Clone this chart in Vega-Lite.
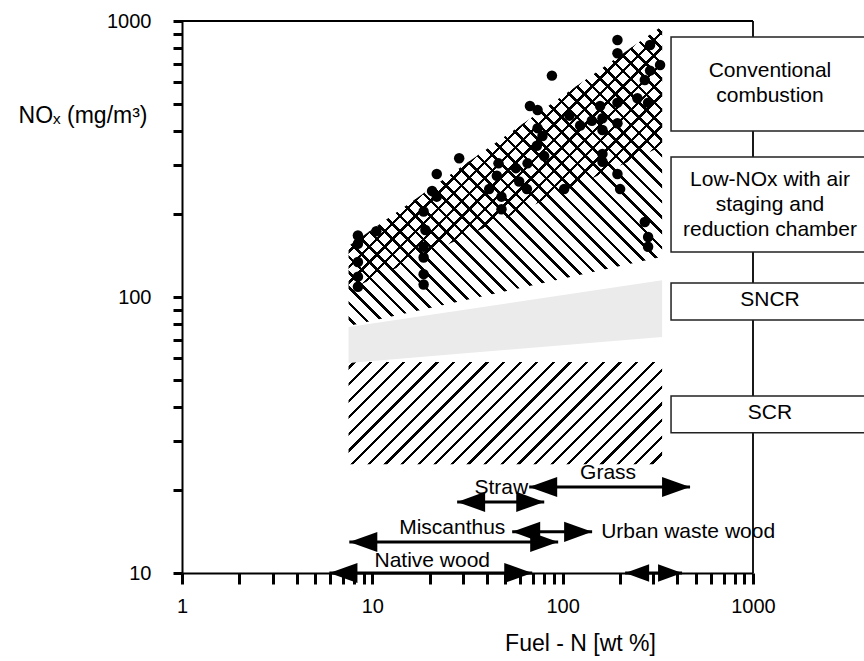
{
"$schema":"https://vega.github.io/schema/vega-lite/v6.json",
"width":571,"height":552,
"autosize":{"type":"none"},
"padding":{"left":182,"top":21,"right":111,"bottom":88},
"background":"white",
"config":{"view":{"stroke":null},"text":{"font":"Liberation Sans"}},
"datasets":{
"frame":[{"x":1,"x2":1000,"y":1000,"y2":1000},{"x":1000,"x2":1000,"y":10,"y2":1000}],
"regions":[
{"r":"SCR","x":7.5,"y":58.1,"y2":24.8},{"r":"SCR","x":333,"y":58.1,"y2":24.8},
{"r":"SNCR","x":7.5,"y":77.8,"y2":57.7},{"r":"SNCR","x":333,"y":115,"y2":71.6},
{"r":"LOW","x":7.5,"y":153,"y2":78.5},{"r":"LOW","x":333,"y":959,"y2":140},
{"r":"CONV","x":7.5,"y":153,"y2":106},{"r":"CONV","x":333,"y":959,"y2":352}],
"points":[
{"x":8.4,"y":167},{"x":8.4,"y":156},{"x":8.4,"y":134},{"x":8.4,"y":118.5},{"x":8.4,"y":109},{"x":10.5,"y":173},
{"x":18.6,"y":204},{"x":19,"y":175},{"x":18.6,"y":152},{"x":18.6,"y":139},{"x":18.6,"y":121},{"x":18.6,"y":111},
{"x":20.6,"y":242},{"x":21.8,"y":279},{"x":21.8,"y":231},{"x":28.6,"y":318},
{"x":41.1,"y":246},{"x":45.1,"y":275},{"x":46,"y":305},{"x":47.7,"y":231},{"x":47.7,"y":208},{"x":56.8,"y":293},{"x":59.1,"y":262},{"x":64.9,"y":246},{"x":65.4,"y":305},{"x":67.3,"y":492},{"x":73.8,"y":476},{"x":73.8,"y":409},{"x":78.3,"y":383},{"x":73.2,"y":353},{"x":80,"y":324},
{"x":87.8,"y":634},{"x":101.8,"y":246},{"x":108.6,"y":454},{"x":123.6,"y":418},{"x":142.3,"y":435},{"x":161.8,"y":444},{"x":161.8,"y":403},{"x":157.3,"y":492},{"x":161.8,"y":330},{"x":161.8,"y":309},
{"x":194,"y":854},{"x":194,"y":764},{"x":194,"y":506},{"x":194,"y":426},{"x":194,"y":279},{"x":200.4,"y":246},
{"x":247,"y":525},{"x":281.1,"y":506},{"x":270.1,"y":611},{"x":287.9,"y":661},{"x":287.9,"y":819},{"x":324.9,"y":693},
{"x":270.1,"y":187},{"x":281.1,"y":165},{"x":281.1,"y":152}],
"boxes":[{"x":371,"x2":10000,"y":875,"y2":399.5},{"x":371,"x2":10000,"y":321.6,"y2":145.5},{"x":371,"x2":10000,"y":112.4,"y2":82.5},{"x":371,"x2":10000,"y":43.8,"y2":32.2}],
"boxlabels":[{"x":1228,"y":659,"t":"Conventional\ncombustion"},{"x":1228,"y":265.5,"t":"Low-NOx with air\nstaging and\nreduction chamber"},{"x":1228,"y":97.5,"t":"SNCR"},{"x":1228,"y":38,"t":"SCR"}],
"arrows":[{"x":66.7,"x2":467,"y":20.5},{"x":27.9,"x2":80,"y":18.1},{"x":54.3,"x2":142.8,"y":14.1},{"x":7.57,"x2":94.7,"y":12.95},{"x":5.95,"x2":69.2,"y":10},{"x":212.9,"x2":424,"y":10}],
"heads":[{"x":66.7,"y":20.5,"d":"L"},{"x":467,"y":20.5,"d":"R"},{"x":27.9,"y":18.1,"d":"L"},{"x":80,"y":18.1,"d":"R"},{"x":54.3,"y":14.1,"d":"L"},{"x":142.8,"y":14.1,"d":"R"},{"x":7.57,"y":12.95,"d":"L"},{"x":94.7,"y":12.95,"d":"R"},{"x":5.95,"y":10,"d":"L"},{"x":69.2,"y":10,"d":"R"}],
"smallheads":[{"x":212.9,"y":10,"d":"L"},{"x":424,"y":10,"d":"R"}],
"labels":[{"x":173.3,"y":23,"t":"Grass"},{"x":47.6,"y":20.3,"t":"Straw"},{"x":26.3,"y":14.55,"t":"Miscanthus"},{"x":20.65,"y":11.05,"t":"Native wood"}],
"labels2":[{"x":159.3,"y":14.1,"t":"Urban waste wood"}]
},
"encoding":{
"x":{"field":"x","type":"quantitative","scale":{"type":"log","domain":[1,1000],"nice":false},
"axis":{"values":[1,2,3,4,5,6,7,8,9,10,20,30,40,50,60,70,80,90,100,200,300,400,500,600,700,800,900,1000],
"labelExpr":"datum.value == 1 || datum.value == 10 || datum.value == 100 || datum.value == 1000 ? format(datum.value, 'd') : ''",
"grid":false,"domainColor":"black","domainWidth":2,"tickColor":"black","tickWidth":3,"tickSize":11,
"labelFont":"Liberation Sans","labelFontSize":20,"labelColor":"black","labelPadding":12,"labelFlush":false,"labelOverlap":false,
"title":"Fuel - N [wt %]","titleFont":"Liberation Sans","titleFontSize":23,"titleFontWeight":"normal","titleColor":"black","titleX":398,"titleY":70,"titleBaseline":"middle","titleAlign":"center"}},
"y":{"field":"y","type":"quantitative","scale":{"type":"log","domain":[10,1000],"nice":false},
"axis":{"values":[10,20,30,40,50,60,70,80,90,100,200,300,400,500,600,700,800,900,1000],
"labelExpr":"datum.value == 10 || datum.value == 100 || datum.value == 1000 ? format(datum.value, 'd') : ''",
"grid":false,"domainColor":"black","domainWidth":2,"tickColor":"black","tickWidth":3,"tickSize":9,
"labelFont":"Liberation Sans","labelFontSize":20,"labelColor":"black","labelPadding":22,"labelOverlap":false,"labelFlush":false,
"title":"NOₓ (mg/m³)","titleFont":"Liberation Sans","titleFontSize":23,"titleFontWeight":"normal","titleColor":"black","titleAngle":0,"titleAlign":"right","titleX":-35,"titleY":94,"titleBaseline":"middle"}}
},
"layer":[
{"data":{"name":"frame"},"mark":{"type":"rule","color":"black","strokeWidth":1.8},"encoding":{"x2":{"field":"x2"},"y2":{"field":"y2"}}},
{"data":{"name":"regions"},"transform":[{"filter":"datum.r == 'SCR'"}],
"mark":{"type":"area","fill":{"gradient":"linear","x1":0,"y1":0,"x2":1.1985,"y2":0.39,"stops":[
{"offset":0.01,"color":"transparent"},{"offset":0.01,"color":"#000"},{"offset":0.018,"color":"#000"},{"offset":0.018,"color":"transparent"},
{"offset":0.05,"color":"transparent"},{"offset":0.05,"color":"#000"},{"offset":0.058,"color":"#000"},{"offset":0.058,"color":"transparent"},
{"offset":0.09,"color":"transparent"},{"offset":0.09,"color":"#000"},{"offset":0.098,"color":"#000"},{"offset":0.098,"color":"transparent"},
{"offset":0.13,"color":"transparent"},{"offset":0.13,"color":"#000"},{"offset":0.138,"color":"#000"},{"offset":0.138,"color":"transparent"},
{"offset":0.17,"color":"transparent"},{"offset":0.17,"color":"#000"},{"offset":0.178,"color":"#000"},{"offset":0.178,"color":"transparent"},
{"offset":0.21,"color":"transparent"},{"offset":0.21,"color":"#000"},{"offset":0.218,"color":"#000"},{"offset":0.218,"color":"transparent"},
{"offset":0.25,"color":"transparent"},{"offset":0.25,"color":"#000"},{"offset":0.258,"color":"#000"},{"offset":0.258,"color":"transparent"},
{"offset":0.29,"color":"transparent"},{"offset":0.29,"color":"#000"},{"offset":0.298,"color":"#000"},{"offset":0.298,"color":"transparent"},
{"offset":0.33,"color":"transparent"},{"offset":0.33,"color":"#000"},{"offset":0.338,"color":"#000"},{"offset":0.338,"color":"transparent"},
{"offset":0.37,"color":"transparent"},{"offset":0.37,"color":"#000"},{"offset":0.378,"color":"#000"},{"offset":0.378,"color":"transparent"},
{"offset":0.41,"color":"transparent"},{"offset":0.41,"color":"#000"},{"offset":0.418,"color":"#000"},{"offset":0.418,"color":"transparent"},
{"offset":0.45,"color":"transparent"},{"offset":0.45,"color":"#000"},{"offset":0.458,"color":"#000"},{"offset":0.458,"color":"transparent"},
{"offset":0.49,"color":"transparent"},{"offset":0.49,"color":"#000"},{"offset":0.498,"color":"#000"},{"offset":0.498,"color":"transparent"},
{"offset":0.53,"color":"transparent"},{"offset":0.53,"color":"#000"},{"offset":0.538,"color":"#000"},{"offset":0.538,"color":"transparent"},
{"offset":0.57,"color":"transparent"},{"offset":0.57,"color":"#000"},{"offset":0.578,"color":"#000"},{"offset":0.578,"color":"transparent"},
{"offset":0.61,"color":"transparent"},{"offset":0.61,"color":"#000"},{"offset":0.618,"color":"#000"},{"offset":0.618,"color":"transparent"},
{"offset":0.65,"color":"transparent"},{"offset":0.65,"color":"#000"},{"offset":0.658,"color":"#000"},{"offset":0.658,"color":"transparent"},
{"offset":0.69,"color":"transparent"},{"offset":0.69,"color":"#000"},{"offset":0.698,"color":"#000"},{"offset":0.698,"color":"transparent"},
{"offset":0.73,"color":"transparent"},{"offset":0.73,"color":"#000"},{"offset":0.738,"color":"#000"},{"offset":0.738,"color":"transparent"},
{"offset":0.77,"color":"transparent"},{"offset":0.77,"color":"#000"},{"offset":0.778,"color":"#000"},{"offset":0.778,"color":"transparent"},
{"offset":0.81,"color":"transparent"},{"offset":0.81,"color":"#000"},{"offset":0.818,"color":"#000"},{"offset":0.818,"color":"transparent"},
{"offset":0.85,"color":"transparent"},{"offset":0.85,"color":"#000"},{"offset":0.858,"color":"#000"},{"offset":0.858,"color":"transparent"},
{"offset":0.89,"color":"transparent"},{"offset":0.89,"color":"#000"},{"offset":0.898,"color":"#000"},{"offset":0.898,"color":"transparent"},
{"offset":0.93,"color":"transparent"},{"offset":0.93,"color":"#000"},{"offset":0.938,"color":"#000"},{"offset":0.938,"color":"transparent"},
{"offset":0.97,"color":"transparent"},{"offset":0.97,"color":"#000"},{"offset":0.978,"color":"#000"},{"offset":0.978,"color":"transparent"}]}},
"encoding":{"y2":{"field":"y2"}}},
{"data":{"name":"regions"},"transform":[{"filter":"datum.r == 'SNCR'"}],"mark":{"type":"area","fill":"#ebebeb"},"encoding":{"y2":{"field":"y2"}}},
{"data":{"name":"regions"},"transform":[{"filter":"datum.r == 'LOW'"}],
"mark":{"type":"area","fill":{"gradient":"linear","x1":0,"y1":1,"x2":1.0215,"y2":0.0225,"stops":[
{"offset":0.01,"color":"transparent"},{"offset":0.01,"color":"#000"},{"offset":0.016,"color":"#000"},{"offset":0.016,"color":"transparent"},
{"offset":0.035,"color":"transparent"},{"offset":0.035,"color":"#000"},{"offset":0.041,"color":"#000"},{"offset":0.041,"color":"transparent"},
{"offset":0.06,"color":"transparent"},{"offset":0.06,"color":"#000"},{"offset":0.066,"color":"#000"},{"offset":0.066,"color":"transparent"},
{"offset":0.085,"color":"transparent"},{"offset":0.085,"color":"#000"},{"offset":0.091,"color":"#000"},{"offset":0.091,"color":"transparent"},
{"offset":0.11,"color":"transparent"},{"offset":0.11,"color":"#000"},{"offset":0.116,"color":"#000"},{"offset":0.116,"color":"transparent"},
{"offset":0.135,"color":"transparent"},{"offset":0.135,"color":"#000"},{"offset":0.141,"color":"#000"},{"offset":0.141,"color":"transparent"},
{"offset":0.16,"color":"transparent"},{"offset":0.16,"color":"#000"},{"offset":0.166,"color":"#000"},{"offset":0.166,"color":"transparent"},
{"offset":0.185,"color":"transparent"},{"offset":0.185,"color":"#000"},{"offset":0.191,"color":"#000"},{"offset":0.191,"color":"transparent"},
{"offset":0.21,"color":"transparent"},{"offset":0.21,"color":"#000"},{"offset":0.216,"color":"#000"},{"offset":0.216,"color":"transparent"},
{"offset":0.235,"color":"transparent"},{"offset":0.235,"color":"#000"},{"offset":0.241,"color":"#000"},{"offset":0.241,"color":"transparent"},
{"offset":0.26,"color":"transparent"},{"offset":0.26,"color":"#000"},{"offset":0.266,"color":"#000"},{"offset":0.266,"color":"transparent"},
{"offset":0.285,"color":"transparent"},{"offset":0.285,"color":"#000"},{"offset":0.291,"color":"#000"},{"offset":0.291,"color":"transparent"},
{"offset":0.31,"color":"transparent"},{"offset":0.31,"color":"#000"},{"offset":0.316,"color":"#000"},{"offset":0.316,"color":"transparent"},
{"offset":0.335,"color":"transparent"},{"offset":0.335,"color":"#000"},{"offset":0.341,"color":"#000"},{"offset":0.341,"color":"transparent"},
{"offset":0.36,"color":"transparent"},{"offset":0.36,"color":"#000"},{"offset":0.366,"color":"#000"},{"offset":0.366,"color":"transparent"},
{"offset":0.385,"color":"transparent"},{"offset":0.385,"color":"#000"},{"offset":0.391,"color":"#000"},{"offset":0.391,"color":"transparent"},
{"offset":0.41,"color":"transparent"},{"offset":0.41,"color":"#000"},{"offset":0.416,"color":"#000"},{"offset":0.416,"color":"transparent"},
{"offset":0.435,"color":"transparent"},{"offset":0.435,"color":"#000"},{"offset":0.441,"color":"#000"},{"offset":0.441,"color":"transparent"},
{"offset":0.46,"color":"transparent"},{"offset":0.46,"color":"#000"},{"offset":0.466,"color":"#000"},{"offset":0.466,"color":"transparent"},
{"offset":0.485,"color":"transparent"},{"offset":0.485,"color":"#000"},{"offset":0.491,"color":"#000"},{"offset":0.491,"color":"transparent"},
{"offset":0.51,"color":"transparent"},{"offset":0.51,"color":"#000"},{"offset":0.516,"color":"#000"},{"offset":0.516,"color":"transparent"},
{"offset":0.535,"color":"transparent"},{"offset":0.535,"color":"#000"},{"offset":0.541,"color":"#000"},{"offset":0.541,"color":"transparent"},
{"offset":0.56,"color":"transparent"},{"offset":0.56,"color":"#000"},{"offset":0.566,"color":"#000"},{"offset":0.566,"color":"transparent"},
{"offset":0.585,"color":"transparent"},{"offset":0.585,"color":"#000"},{"offset":0.591,"color":"#000"},{"offset":0.591,"color":"transparent"},
{"offset":0.61,"color":"transparent"},{"offset":0.61,"color":"#000"},{"offset":0.616,"color":"#000"},{"offset":0.616,"color":"transparent"},
{"offset":0.635,"color":"transparent"},{"offset":0.635,"color":"#000"},{"offset":0.641,"color":"#000"},{"offset":0.641,"color":"transparent"},
{"offset":0.66,"color":"transparent"},{"offset":0.66,"color":"#000"},{"offset":0.666,"color":"#000"},{"offset":0.666,"color":"transparent"},
{"offset":0.685,"color":"transparent"},{"offset":0.685,"color":"#000"},{"offset":0.691,"color":"#000"},{"offset":0.691,"color":"transparent"},
{"offset":0.71,"color":"transparent"},{"offset":0.71,"color":"#000"},{"offset":0.716,"color":"#000"},{"offset":0.716,"color":"transparent"},
{"offset":0.735,"color":"transparent"},{"offset":0.735,"color":"#000"},{"offset":0.741,"color":"#000"},{"offset":0.741,"color":"transparent"},
{"offset":0.76,"color":"transparent"},{"offset":0.76,"color":"#000"},{"offset":0.766,"color":"#000"},{"offset":0.766,"color":"transparent"},
{"offset":0.785,"color":"transparent"},{"offset":0.785,"color":"#000"},{"offset":0.791,"color":"#000"},{"offset":0.791,"color":"transparent"},
{"offset":0.81,"color":"transparent"},{"offset":0.81,"color":"#000"},{"offset":0.816,"color":"#000"},{"offset":0.816,"color":"transparent"},
{"offset":0.835,"color":"transparent"},{"offset":0.835,"color":"#000"},{"offset":0.841,"color":"#000"},{"offset":0.841,"color":"transparent"},
{"offset":0.86,"color":"transparent"},{"offset":0.86,"color":"#000"},{"offset":0.866,"color":"#000"},{"offset":0.866,"color":"transparent"},
{"offset":0.885,"color":"transparent"},{"offset":0.885,"color":"#000"},{"offset":0.891,"color":"#000"},{"offset":0.891,"color":"transparent"},
{"offset":0.91,"color":"transparent"},{"offset":0.91,"color":"#000"},{"offset":0.916,"color":"#000"},{"offset":0.916,"color":"transparent"},
{"offset":0.935,"color":"transparent"},{"offset":0.935,"color":"#000"},{"offset":0.941,"color":"#000"},{"offset":0.941,"color":"transparent"},
{"offset":0.96,"color":"transparent"},{"offset":0.96,"color":"#000"},{"offset":0.966,"color":"#000"},{"offset":0.966,"color":"transparent"},
{"offset":0.985,"color":"transparent"},{"offset":0.985,"color":"#000"},{"offset":0.991,"color":"#000"},{"offset":0.991,"color":"transparent"}]}},
"encoding":{"y2":{"field":"y2"}}},
{"data":{"name":"regions"},"transform":[{"filter":"datum.r == 'CONV'"}],
"mark":{"type":"area","fill":{"gradient":"linear","x1":0,"y1":0,"x2":1.0778,"y2":0.9076,"stops":[
{"offset":0.01,"color":"transparent"},{"offset":0.01,"color":"#000"},{"offset":0.016,"color":"#000"},{"offset":0.016,"color":"transparent"},
{"offset":0.037,"color":"transparent"},{"offset":0.037,"color":"#000"},{"offset":0.043,"color":"#000"},{"offset":0.043,"color":"transparent"},
{"offset":0.064,"color":"transparent"},{"offset":0.064,"color":"#000"},{"offset":0.07,"color":"#000"},{"offset":0.07,"color":"transparent"},
{"offset":0.091,"color":"transparent"},{"offset":0.091,"color":"#000"},{"offset":0.097,"color":"#000"},{"offset":0.097,"color":"transparent"},
{"offset":0.118,"color":"transparent"},{"offset":0.118,"color":"#000"},{"offset":0.124,"color":"#000"},{"offset":0.124,"color":"transparent"},
{"offset":0.145,"color":"transparent"},{"offset":0.145,"color":"#000"},{"offset":0.151,"color":"#000"},{"offset":0.151,"color":"transparent"},
{"offset":0.172,"color":"transparent"},{"offset":0.172,"color":"#000"},{"offset":0.178,"color":"#000"},{"offset":0.178,"color":"transparent"},
{"offset":0.199,"color":"transparent"},{"offset":0.199,"color":"#000"},{"offset":0.205,"color":"#000"},{"offset":0.205,"color":"transparent"},
{"offset":0.226,"color":"transparent"},{"offset":0.226,"color":"#000"},{"offset":0.232,"color":"#000"},{"offset":0.232,"color":"transparent"},
{"offset":0.253,"color":"transparent"},{"offset":0.253,"color":"#000"},{"offset":0.259,"color":"#000"},{"offset":0.259,"color":"transparent"},
{"offset":0.28,"color":"transparent"},{"offset":0.28,"color":"#000"},{"offset":0.286,"color":"#000"},{"offset":0.286,"color":"transparent"},
{"offset":0.307,"color":"transparent"},{"offset":0.307,"color":"#000"},{"offset":0.313,"color":"#000"},{"offset":0.313,"color":"transparent"},
{"offset":0.334,"color":"transparent"},{"offset":0.334,"color":"#000"},{"offset":0.34,"color":"#000"},{"offset":0.34,"color":"transparent"},
{"offset":0.361,"color":"transparent"},{"offset":0.361,"color":"#000"},{"offset":0.367,"color":"#000"},{"offset":0.367,"color":"transparent"},
{"offset":0.388,"color":"transparent"},{"offset":0.388,"color":"#000"},{"offset":0.394,"color":"#000"},{"offset":0.394,"color":"transparent"},
{"offset":0.415,"color":"transparent"},{"offset":0.415,"color":"#000"},{"offset":0.421,"color":"#000"},{"offset":0.421,"color":"transparent"},
{"offset":0.442,"color":"transparent"},{"offset":0.442,"color":"#000"},{"offset":0.448,"color":"#000"},{"offset":0.448,"color":"transparent"},
{"offset":0.469,"color":"transparent"},{"offset":0.469,"color":"#000"},{"offset":0.475,"color":"#000"},{"offset":0.475,"color":"transparent"},
{"offset":0.496,"color":"transparent"},{"offset":0.496,"color":"#000"},{"offset":0.502,"color":"#000"},{"offset":0.502,"color":"transparent"},
{"offset":0.523,"color":"transparent"},{"offset":0.523,"color":"#000"},{"offset":0.529,"color":"#000"},{"offset":0.529,"color":"transparent"},
{"offset":0.55,"color":"transparent"},{"offset":0.55,"color":"#000"},{"offset":0.556,"color":"#000"},{"offset":0.556,"color":"transparent"},
{"offset":0.577,"color":"transparent"},{"offset":0.577,"color":"#000"},{"offset":0.583,"color":"#000"},{"offset":0.583,"color":"transparent"},
{"offset":0.604,"color":"transparent"},{"offset":0.604,"color":"#000"},{"offset":0.61,"color":"#000"},{"offset":0.61,"color":"transparent"},
{"offset":0.631,"color":"transparent"},{"offset":0.631,"color":"#000"},{"offset":0.637,"color":"#000"},{"offset":0.637,"color":"transparent"},
{"offset":0.658,"color":"transparent"},{"offset":0.658,"color":"#000"},{"offset":0.664,"color":"#000"},{"offset":0.664,"color":"transparent"},
{"offset":0.685,"color":"transparent"},{"offset":0.685,"color":"#000"},{"offset":0.691,"color":"#000"},{"offset":0.691,"color":"transparent"},
{"offset":0.712,"color":"transparent"},{"offset":0.712,"color":"#000"},{"offset":0.718,"color":"#000"},{"offset":0.718,"color":"transparent"},
{"offset":0.739,"color":"transparent"},{"offset":0.739,"color":"#000"},{"offset":0.745,"color":"#000"},{"offset":0.745,"color":"transparent"},
{"offset":0.766,"color":"transparent"},{"offset":0.766,"color":"#000"},{"offset":0.772,"color":"#000"},{"offset":0.772,"color":"transparent"},
{"offset":0.793,"color":"transparent"},{"offset":0.793,"color":"#000"},{"offset":0.799,"color":"#000"},{"offset":0.799,"color":"transparent"},
{"offset":0.82,"color":"transparent"},{"offset":0.82,"color":"#000"},{"offset":0.826,"color":"#000"},{"offset":0.826,"color":"transparent"},
{"offset":0.847,"color":"transparent"},{"offset":0.847,"color":"#000"},{"offset":0.853,"color":"#000"},{"offset":0.853,"color":"transparent"},
{"offset":0.874,"color":"transparent"},{"offset":0.874,"color":"#000"},{"offset":0.88,"color":"#000"},{"offset":0.88,"color":"transparent"},
{"offset":0.901,"color":"transparent"},{"offset":0.901,"color":"#000"},{"offset":0.907,"color":"#000"},{"offset":0.907,"color":"transparent"},
{"offset":0.928,"color":"transparent"},{"offset":0.928,"color":"#000"},{"offset":0.934,"color":"#000"},{"offset":0.934,"color":"transparent"},
{"offset":0.955,"color":"transparent"},{"offset":0.955,"color":"#000"},{"offset":0.961,"color":"#000"},{"offset":0.961,"color":"transparent"},
{"offset":0.982,"color":"transparent"},{"offset":0.982,"color":"#000"},{"offset":0.988,"color":"#000"},{"offset":0.988,"color":"transparent"}]}},
"encoding":{"y2":{"field":"y2"}}},
{"data":{"name":"points"},"mark":{"type":"point","shape":"circle","filled":true,"color":"black","opacity":1,"size":110}},
{"data":{"name":"boxes"},"mark":{"type":"rect","fill":"white","stroke":"#222","strokeWidth":1.5},"encoding":{"x2":{"field":"x2"},"y2":{"field":"y2"}}},
{"data":{"name":"boxlabels"},"mark":{"type":"text","font":"Liberation Sans","fontSize":21,"color":"black","align":"center","baseline":"middle","lineBreak":"\n","lineHeight":25},"encoding":{"text":{"field":"t"}}},
{"data":{"name":"arrows"},"mark":{"type":"rule","color":"black","strokeWidth":3},"encoding":{"x2":{"field":"x2"}}},
{"data":{"name":"heads"},"mark":{"type":"point","filled":true,"color":"black","opacity":1,"size":3136,"strokeWidth":0},
"encoding":{"shape":{"field":"d","type":"nominal","scale":{"domain":["L","R"],"range":["M0,0L1,-0.36L1,0.36Z","M0,0L-1,-0.36L-1,0.36Z"]},"legend":null}}},
{"data":{"name":"smallheads"},"mark":{"type":"point","filled":true,"color":"black","opacity":1,"size":2304,"strokeWidth":0},
"encoding":{"shape":{"field":"d","type":"nominal","scale":{"domain":["L","R"],"range":["M0,0L1,-0.36L1,0.36Z","M0,0L-1,-0.36L-1,0.36Z"]},"legend":null}}},
{"data":{"name":"labels"},"mark":{"type":"text","font":"Liberation Sans","fontSize":21,"color":"black","align":"center","baseline":"middle"},"encoding":{"text":{"field":"t"}}},
{"data":{"name":"labels2"},"mark":{"type":"text","font":"Liberation Sans","fontSize":21,"color":"black","align":"left","baseline":"middle"},"encoding":{"text":{"field":"t"}}}
]
}
